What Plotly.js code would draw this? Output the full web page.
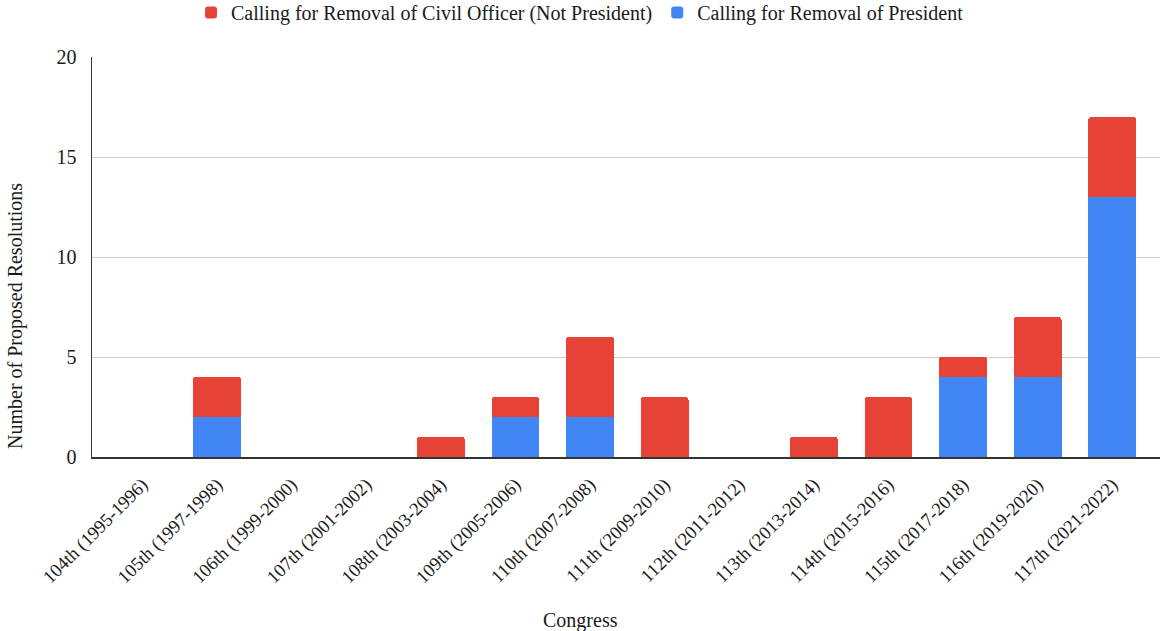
<!DOCTYPE html>
<html><head><meta charset="utf-8">
<script src="https://cdn.plot.ly/plotly-3.0.1.min.js"></script>
<style>html,body{margin:0;padding:0;background:#fff}#chart{width:1160px;height:631px}</style>
</head><body><div id="chart"></div>
<script>
const congresses = ["104th (1995-1996)","105th (1997-1998)","106th (1999-2000)","107th (2001-2002)","108th (2003-2004)","109th (2005-2006)","110th (2007-2008)","111th (2009-2010)","112th (2011-2012)","113th (2013-2014)","114th (2015-2016)","115th (2017-2018)","116th (2019-2020)","117th (2021-2022)"];
const presidentCounts = [0,2,0,0,0,2,2,0,0,0,0,4,4,13];
const civilOfficerCounts = [0,2,0,0,1,1,4,3,0,1,3,1,3,4];

const FONT = "Liberation Serif, Times New Roman, serif";
const TXT = '#1a1a1a';
const traces = [
  {type:'bar', name:'Calling for Removal of President', x:congresses, y:presidentCounts,
   marker:{color:'#4285F4'}, width:0.64},
  {type:'bar', name:'Calling for Removal of Civil Officer (Not President)', x:congresses, y:civilOfficerCounts,
   marker:{color:'#E64336'}, width:0.64}
];
const layout = {
  width:1160, height:631,
  barmode:'stack', barcornerradius:3,
  margin:{l:92, r:0, t:57, b:174},
  paper_bgcolor:'#fff', plot_bgcolor:'#fff',
  font:{family:FONT, color:TXT, size:18},
  showlegend:true,
  legend:{orientation:'h', xref:'container', yref:'container', x:0.5, xanchor:'center', y:0.98, yanchor:'middle',
          traceorder:'reversed', font:{size:20, family:FONT, color:TXT}, itemwidth:30},
  xaxis:{type:'category', range:[-0.676, 13.64], tickangle:-45, showgrid:false, showline:true,
         linecolor:'#333', linewidth:1.5, ticks:'', ticklabelstandoff:8, tickfont:{size:18.5, color:TXT}},
  yaxis:{range:[0,20], dtick:5, showgrid:true, gridcolor:'#cccccc', gridwidth:1, showline:true,
         linecolor:'#333', linewidth:1.5, ticks:'', ticklabelstandoff:10, tickfont:{size:20, color:TXT}, zeroline:false},
  annotations:[
    {text:'Congress', xref:'paper', yref:'paper', x:(580-92)/1068, y:(457-620)/400, xanchor:'center', yanchor:'middle',
     showarrow:false, font:{size:20, family:FONT, color:TXT}},
    {text:'Number of Proposed Resolutions', xref:'paper', yref:'paper', x:(15-92)/1068, y:(457-316)/400, xanchor:'center', yanchor:'middle',
     textangle:-90, showarrow:false, font:{size:20, family:FONT, color:TXT}}
  ]
};
Plotly.newPlot('chart', traces, layout, {displayModeBar:false, staticPlot:true});
</script></body></html>
